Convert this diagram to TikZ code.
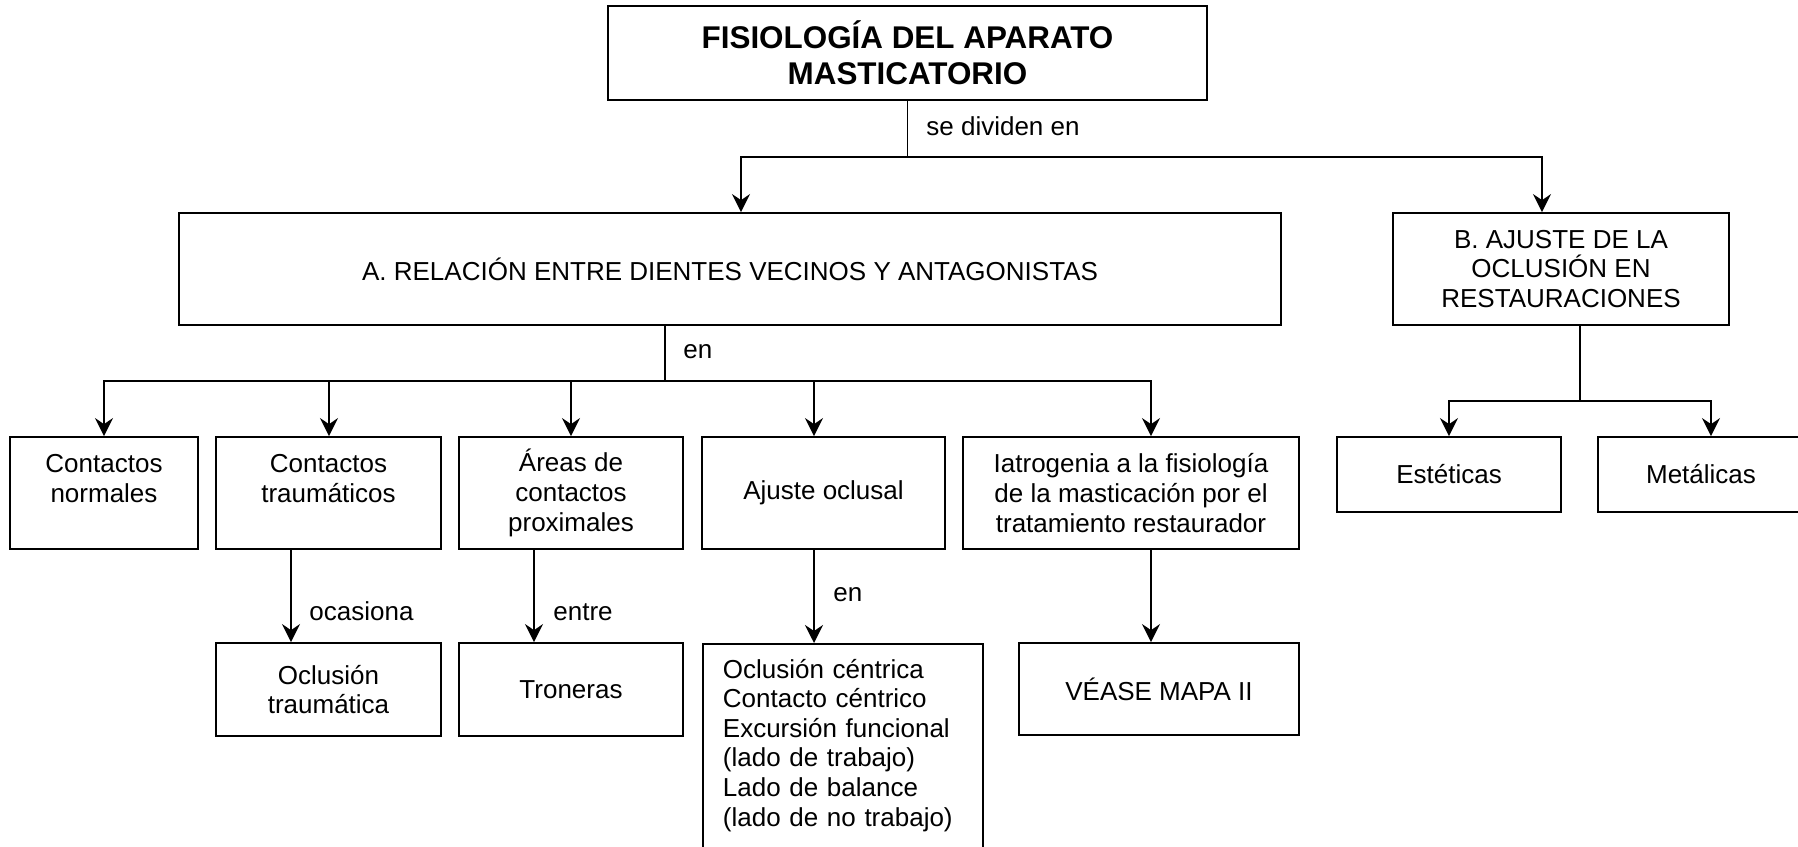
\documentclass[tikz,border=0pt]{standalone}
\usepackage{fontspec}
\setmainfont{Liberation Sans}
\usetikzlibrary{arrows.meta}
\tikzset{
  box/.style={draw,line width=0.9pt,inner sep=0pt,align=center,
              font=\fontsize{13}{14.8}\selectfont},
  lbl/.style={inner sep=0pt,anchor=base west,font=\fontsize{13}{14.8}\selectfont},
  link/.style={line width=0.9pt},
  arr/.style={link,-{Stealth[length=9pt,width=9pt,inset=3pt]}},
}

\begin{document}
\begin{tikzpicture}[x=0.5pt,y=-0.5pt]
  \useasboundingbox (0,0) rectangle (1798,846);
  % top
  \node[box,font=\fontsize{15.7}{17.8}\selectfont\bfseries,
        minimum width=299.5pt,minimum height=47pt] (title) at (907.5,53)
        {FISIOLOGÍA DEL APARATO\\MASTICATORIO};
  \node[box,minimum width=551pt,minimum height=56pt] (relA) at (730,269)
        {A. RELACIÓN ENTRE DIENTES VECINOS Y ANTAGONISTAS};
  \node[box,minimum width=168pt,minimum height=56pt] (ajusteB) at (1561,269)
        {B. AJUSTE DE LA\\OCLUSIÓN EN\\RESTAURACIONES};
  % second row
  \node[box,minimum width=94pt,minimum height=56pt] (normales) at (104,493)
        {Contactos\\normales\\~};
  \node[box,minimum width=112.5pt,minimum height=56pt] (traum) at (328.5,493)
        {Contactos\\traumáticos\\~};
  \node[box,minimum width=112pt,minimum height=56pt] (areas) at (571,493)
        {Áreas de\\contactos\\proximales};
  \node[box,minimum width=121.5pt,minimum height=56pt] (oclusal) at (823.5,493)
        {Ajuste oclusal};
  \node[box,minimum width=168pt,minimum height=56pt] (iatro) at (1131,493)
        {Iatrogenia a la fisiología\\de la masticación por el\\tratamiento restaurador};
  \node[box,minimum width=112pt,minimum height=37.5pt] (esteticas) at (1449,474.5)
        {Estéticas};
  \node[box,minimum width=103pt,minimum height=37.5pt] (metalicas) at (1701,474.5)
        {Metálicas};
  % third row
  \node[box,minimum width=112.5pt,minimum height=46.5pt] (octraum) at (328.5,689.5)
        {Oclusión\\traumática};
  \node[box,minimum width=112pt,minimum height=46.5pt] (troneras) at (571,689.5)
        {Troneras};
  \node[box,anchor=north west,align=left,text width=120pt,inner xsep=10pt,
        inner ysep=7.5pt] (lista) at (702,643)
        {Oclusión céntrica\\Contacto céntrico\\Excursión funcional\\(lado de trabajo)\\
         Lado de balance\\(lado de no trabajo)\rule[-30pt]{0pt}{0pt}};
  \node[box,minimum width=140pt,minimum height=46pt] (vease) at (1159,689)
        {VÉASE MAPA II};
  % labels
  \node[lbl] (lsediv) at (926,135) {se dividen en};
  \node[lbl] (lenA) at (683,358) {en};
  \node[lbl] (locas) at (309,620) {ocasiona};
  \node[lbl] (lentre) at (553,620) {entre};
  \node[lbl] (lenaj) at (833,601) {en};
  % connectors
  \coordinate (jt) at (907.5,157);
  \coordinate (jr) at (665,381);
  \coordinate (jb) at (1580,401);
  \draw[link] (title.south) -- (jt);
  \draw[arr] (jt) -| (relA.north -| 741,0);
  \draw[arr] (jt) -| (ajusteB.north -| 1542,0);
  \draw[link] (relA.south -| jr) -- (jr);
  \foreach \n/\x in {normales/104,traum/329,areas/571,oclusal/814,iatro/1151}
    \draw[arr] (jr) -| (\n.north -| \x,0);
  \draw[link] (ajusteB.south -| jb) -- (jb);
  \foreach \n/\x in {esteticas/1449,metalicas/1711}
    \draw[arr] (jb) -| (\n.north -| \x,0);
  \foreach \a/\b/\x in {traum/octraum/291,areas/troneras/534,oclusal/lista/814,iatro/vease/1151}
    \draw[arr] (\a.south -| \x,0) -- (\b.north -| \x,0);
\end{tikzpicture}
\end{document}
